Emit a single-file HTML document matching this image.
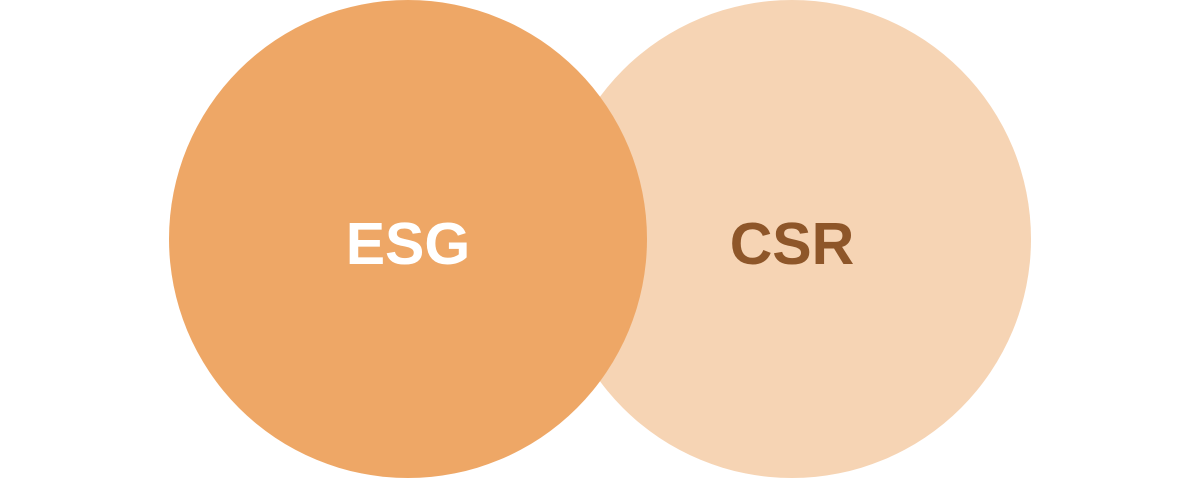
<!DOCTYPE html>
<html><head><style>
html,body{margin:0;padding:0;background:#fff;}
</style></head><body>
<svg width="1200" height="478" viewBox="0 0 1200 478" xmlns="http://www.w3.org/2000/svg">
<rect width="1200" height="478" fill="#ffffff"/>
<circle cx="792" cy="239" r="239" fill="#F6D4B4"/>
<circle cx="408" cy="239" r="239" fill="#EEA766"/>
<text x="408" y="264" text-anchor="middle" font-family="Liberation Sans, sans-serif" font-weight="bold" font-size="59" fill="#ffffff">ESG</text>
<text x="792" y="264" text-anchor="middle" font-family="Liberation Sans, sans-serif" font-weight="bold" font-size="59" fill="#8E5629">CSR</text>
</svg>
</body></html>
